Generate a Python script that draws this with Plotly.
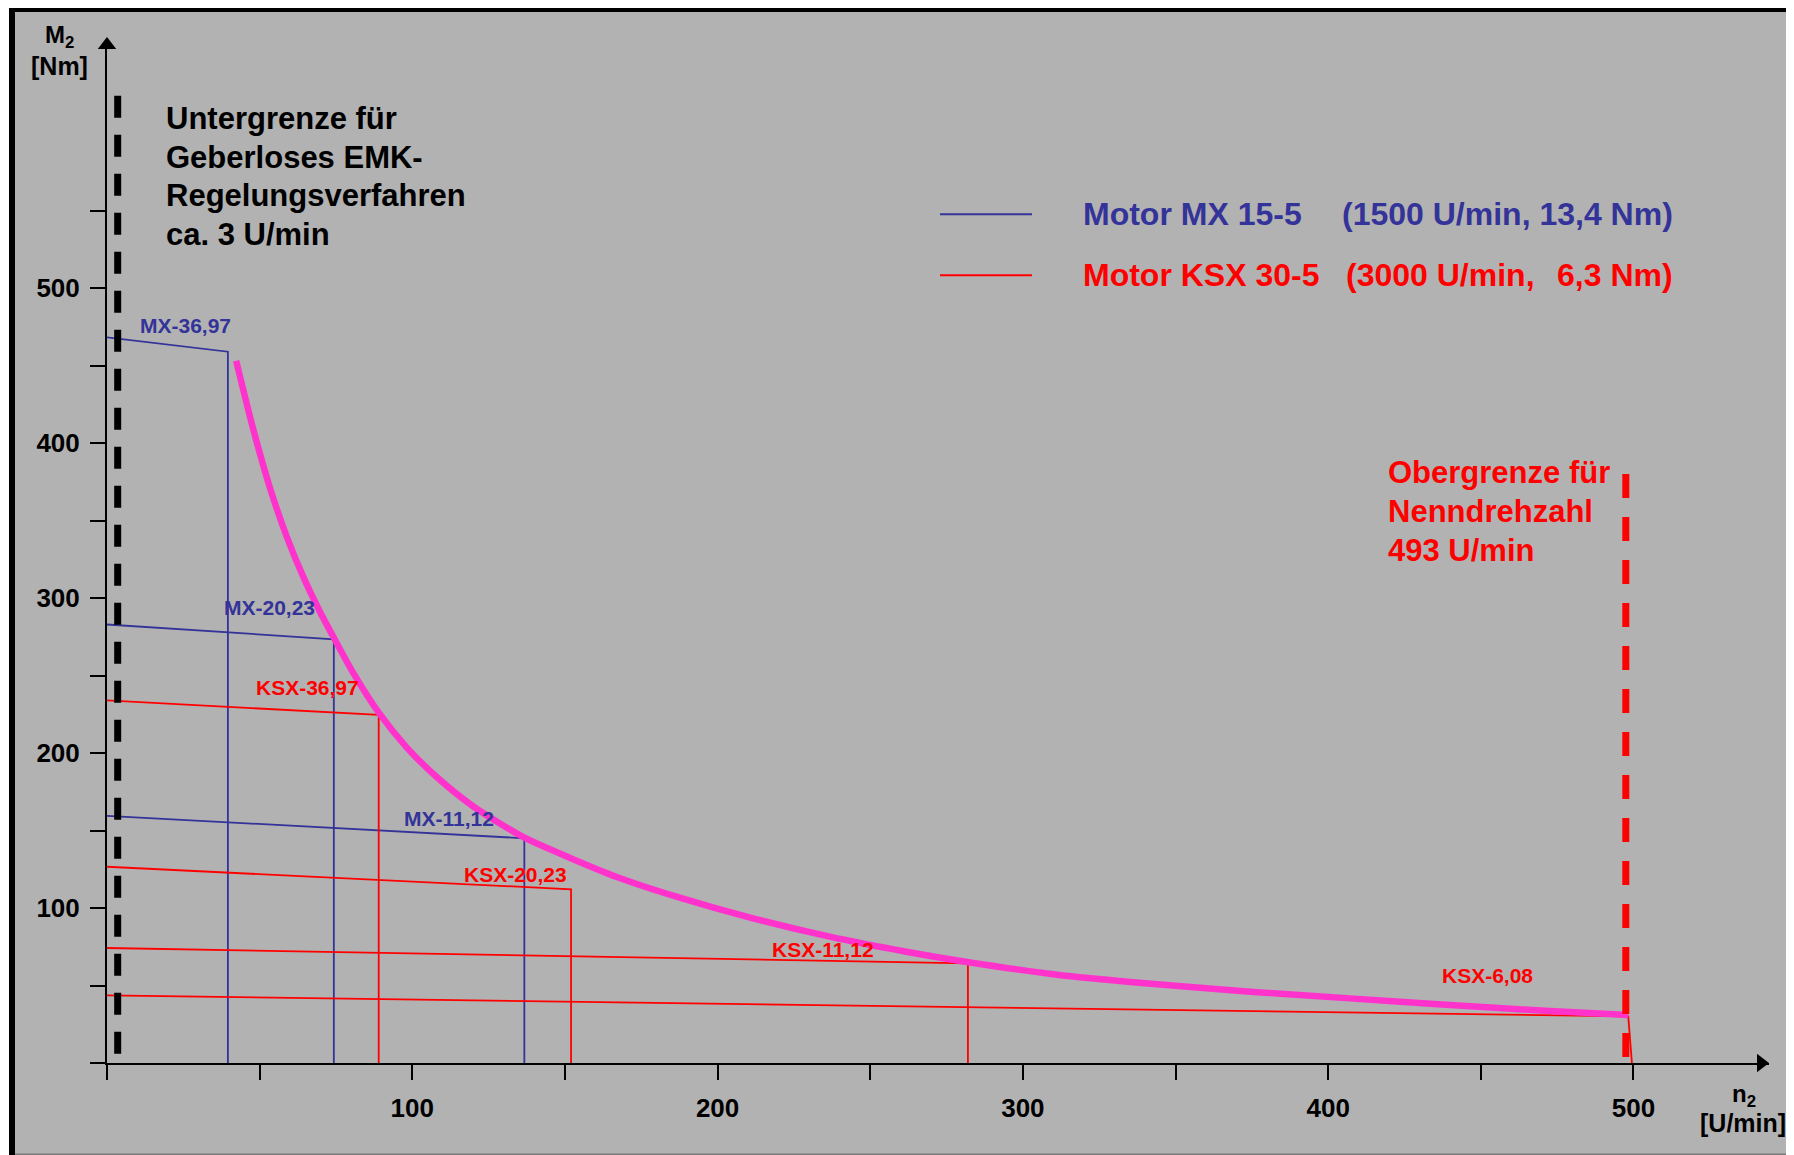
import plotly.graph_objects as go

# ---------------- data ----------------
gear_labels = ["MX-36,97", "MX-20,23", "MX-11,12", "KSX-36,97", "KSX-20,23", "KSX-11,12", "KSX-6,08"]
gear_motor = ["MX", "MX", "MX", "KSX", "KSX", "KSX", "KSX"]
torque_at_zero = [468.2, 282.9, 159.5, 233.9, 126.6, 74.2, 43.6]      # M2 at n2 = 0
corner_speed = [39.6, 74.3, 136.7, 89.0, 152.0, 282.0, 498.3]         # n2 at corner
corner_torque = [458.9, 273.4, 145.0, 224.6, 112.1, 64.3, 30.1]       # M2 at corner
foot_speed = [39.6, 74.3, 136.7, 89.0, 152.0, 282.0, 499.5]           # n2 where line meets axis
label_speed = [25.7, 53.2, 111.9, 65.6, 133.9, 234.4, 452.2]
label_torque = [475.5, 293.9, 157.7, 242.1, 121.4, 73.2, 56.3]

limit_speed = [42.3, 47.9, 53.4, 58.9, 64.3, 69.8, 74.4, 80.7, 89.2, 98.2, 108.0, 120.0,
               136.6, 151.7, 167.0, 186.5, 211.6, 236.7, 261.8, 282.2, 311.9, 337.0,
               374.4, 407.1, 439.9, 472.7, 498.3]
limit_torque = [453.1, 408.9, 370.9, 339.5, 313.6, 291.0, 274.0, 251.5, 225.5, 203.5, 184.5, 165.5,
                145.5, 132.3, 120.0, 107.3, 93.3, 81.5, 71.8, 65.0, 56.8, 52.0,
                46.0, 41.7, 37.4, 33.5, 31.0]

lower_limit_speed = 3.5
lower_limit_top = 624
upper_limit_speed = 497.5
upper_limit_top = 380

x_tick_vals = [0, 50, 100, 150, 200, 250, 300, 350, 400, 450, 500]
x_tick_text = ["", "", "100", "", "200", "", "300", "", "400", "", "500"]
y_tick_vals = [0, 50, 100, 150, 200, 250, 300, 350, 400, 450, 500, 550]
y_tick_text = ["", "", "100", "", "200", "", "300", "", "400", "", "500", ""]

lower_text = ["Untergrenze für", "Geberloses EMK-", "Regelungsverfahren", "ca. 3 U/min"]
upper_text = ["Obergrenze für", "Nenndrehzahl", "493 U/min"]
legend_mx = ["Motor MX 15-5", "(1500 U/min, 13,4 Nm)"]
legend_ksx = ["Motor KSX 30-5", "(3000 U/min,", "6,3 Nm)"]

# ---------------- styling / geometry ----------------
OFF = 8                      # default page margin of the html body
W, H = 1794 - OFF, 1155 - OFF
ML, MR, MT, MB = 107 - OFF, 25, 40 - OFF, 92
X_RANGE = [0, 544.4]
Y_RANGE = [0, 660]
BLUE = "#333399"
RED = "#FF0000"
MAGENTA = "#FF33CC"
GRAY = "#B2B2B2"
FONT = "Liberation Sans, Arial, Helvetica, sans-serif"
COLORS = {"MX": BLUE, "KSX": RED}


def pxx(px):
    """page pixel x -> paper x"""
    return (px - OFF - ML) / (W - ML - MR)


def pxy(py):
    """page pixel y -> paper y"""
    return (H - MB - (py - OFF)) / (H - MT - MB)


def datax(px):
    return X_RANGE[0] + (X_RANGE[1] - X_RANGE[0]) * pxx(px)


def datay(py):
    return Y_RANGE[0] + (Y_RANGE[1] - Y_RANGE[0]) * pxy(py)


fig = go.Figure()

for i, name in enumerate(gear_labels):
    fig.add_trace(go.Scatter(
        x=[0, corner_speed[i], foot_speed[i]],
        y=[torque_at_zero[i], corner_torque[i], 0],
        mode="lines", line=dict(color=COLORS[gear_motor[i]], width=1.8),
        name=name, showlegend=False, hoverinfo="skip"))

fig.add_trace(go.Scatter(
    x=limit_speed, y=limit_torque, mode="lines",
    line=dict(color=MAGENTA, width=6.5, shape="spline", smoothing=0.7),
    showlegend=False, hoverinfo="skip"))

fig.add_trace(go.Scatter(
    x=[lower_limit_speed, lower_limit_speed], y=[lower_limit_top, 0], mode="lines",
    line=dict(color="black", width=7, dash="22px,17px"), showlegend=False, hoverinfo="skip"))
fig.add_trace(go.Scatter(
    x=[upper_limit_speed, upper_limit_speed], y=[upper_limit_top, 0], mode="lines",
    line=dict(color=RED, width=7, dash="24px,19px"), showlegend=False, hoverinfo="skip"))

# axis arrow heads
fig.add_trace(go.Scatter(
    x=[0], y=[datay(45)], mode="markers", cliponaxis=False,
    marker=dict(symbol="triangle-up", size=16, color="black"), showlegend=False, hoverinfo="skip"))
fig.add_trace(go.Scatter(
    x=[datax(1761)], y=[0], mode="markers", cliponaxis=False,
    marker=dict(symbol="triangle-right", size=16, color="black"), showlegend=False, hoverinfo="skip"))

annotations = []
for i, name in enumerate(gear_labels):
    annotations.append(dict(
        x=label_speed[i], y=label_torque[i], xref="x", yref="y", text=name, showarrow=False,
        font=dict(family=FONT, size=21, color=COLORS[gear_motor[i]], weight="bold"),
        xanchor="center", yanchor="middle"))

for line, py in zip(lower_text, [118.5, 157.5, 196, 234.5]):
    annotations.append(dict(
        x=pxx(163.8), y=pxy(py), xref="paper", yref="paper", text=line, showarrow=False,
        font=dict(family=FONT, size=31, color="black", weight="bold"),
        xanchor="left", yanchor="middle"))

for line, py in zip(upper_text, [473, 511.5, 550]):
    annotations.append(dict(
        x=pxx(1386), y=pxy(py), xref="paper", yref="paper", text=line, showarrow=False,
        font=dict(family=FONT, size=31, color=RED, weight="bold"),
        xanchor="left", yanchor="middle"))

LEG_FONT = 32
annotations += [
    dict(x=pxx(1081), y=pxy(214), xref="paper", yref="paper", text=legend_mx[0], showarrow=False,
         font=dict(family=FONT, size=LEG_FONT, color=BLUE, weight="bold"), xanchor="left", yanchor="middle"),
    dict(x=pxx(1675), y=pxy(214), xref="paper", yref="paper", text=legend_mx[1], showarrow=False,
         font=dict(family=FONT, size=LEG_FONT, color=BLUE, weight="bold"), xanchor="right", yanchor="middle"),
    dict(x=pxx(1081), y=pxy(275), xref="paper", yref="paper", text=legend_ksx[0], showarrow=False,
         font=dict(family=FONT, size=LEG_FONT, color=RED, weight="bold"), xanchor="left", yanchor="middle"),
    dict(x=pxx(1343.6), y=pxy(275), xref="paper", yref="paper", text=legend_ksx[1], showarrow=False,
         font=dict(family=FONT, size=LEG_FONT, color=RED, weight="bold"), xanchor="left", yanchor="middle"),
    dict(x=pxx(1675), y=pxy(275), xref="paper", yref="paper", text=legend_ksx[2], showarrow=False,
         font=dict(family=FONT, size=LEG_FONT, color=RED, weight="bold"), xanchor="right", yanchor="middle"),
]

# axis titles
annotations += [
    dict(x=pxx(59.5), y=pxy(36), xref="paper", yref="paper", text="M<sub>2</sub>", showarrow=False,
         font=dict(family=FONT, size=24, color="black", weight="bold"), xanchor="center", yanchor="middle"),
    dict(x=pxx(59.5), y=pxy(66), xref="paper", yref="paper", text="[Nm]", showarrow=False,
         font=dict(family=FONT, size=25, color="black", weight="bold"), xanchor="center", yanchor="middle"),
    dict(x=pxx(1744), y=pxy(1095), xref="paper", yref="paper", text="n<sub>2</sub>", showarrow=False,
         font=dict(family=FONT, size=24, color="black", weight="bold"), xanchor="center", yanchor="middle"),
    dict(x=pxx(1743), y=pxy(1123), xref="paper", yref="paper", text="[U/min]", showarrow=False,
         font=dict(family=FONT, size=25, color="black", weight="bold"), xanchor="center", yanchor="middle"),
]


def rect(x0, y0, x1, y1, color):
    return dict(type="rect", xref="paper", yref="paper", x0=pxx(x0), x1=pxx(x1), y0=pxy(y0), y1=pxy(y1),
                fillcolor=color, line=dict(width=0), layer="above")


shapes = [
    rect(OFF, OFF, 9, 1155, "white"),
    rect(9, OFF, 15, 1155, "black"),
    rect(9, OFF, 1794, 12, "black"),
    rect(1792.5, 12, 1794, 1155, "#7A7A7A"),
    rect(15, 1153.5, 1794, 1155, "#7A7A7A"),
    dict(type="line", xref="paper", yref="paper", x0=pxx(940), x1=pxx(1032), y0=pxy(214.3), y1=pxy(214.3),
         line=dict(color=BLUE, width=2)),
    dict(type="line", xref="paper", yref="paper", x0=pxx(940), x1=pxx(1032), y0=pxy(275.3), y1=pxy(275.3),
         line=dict(color=RED, width=2)),
]

axis_common = dict(
    showgrid=False, zeroline=False, showline=True, linecolor="black", linewidth=2,
    ticks="outside", ticklen=15, tickwidth=2, tickcolor="black", automargin=False,
    tickfont=dict(family=FONT, size=26, color="black", weight="bold"),
    fixedrange=True)

fig.update_layout(
    width=W, height=H,
    margin=dict(l=ML, r=MR, t=MT, b=MB, pad=0),
    paper_bgcolor=GRAY, plot_bgcolor="rgba(0,0,0,0)",
    showlegend=False,
    xaxis=dict(range=X_RANGE, tickmode="array", tickvals=x_tick_vals, ticktext=x_tick_text,
               ticklabelstandoff=6, **axis_common),
    yaxis=dict(range=Y_RANGE, tickmode="array", tickvals=y_tick_vals, ticktext=y_tick_text,
               ticklabelstandoff=5, **axis_common),
    annotations=annotations,
    shapes=shapes,
)

fig.write_html("out.html")
